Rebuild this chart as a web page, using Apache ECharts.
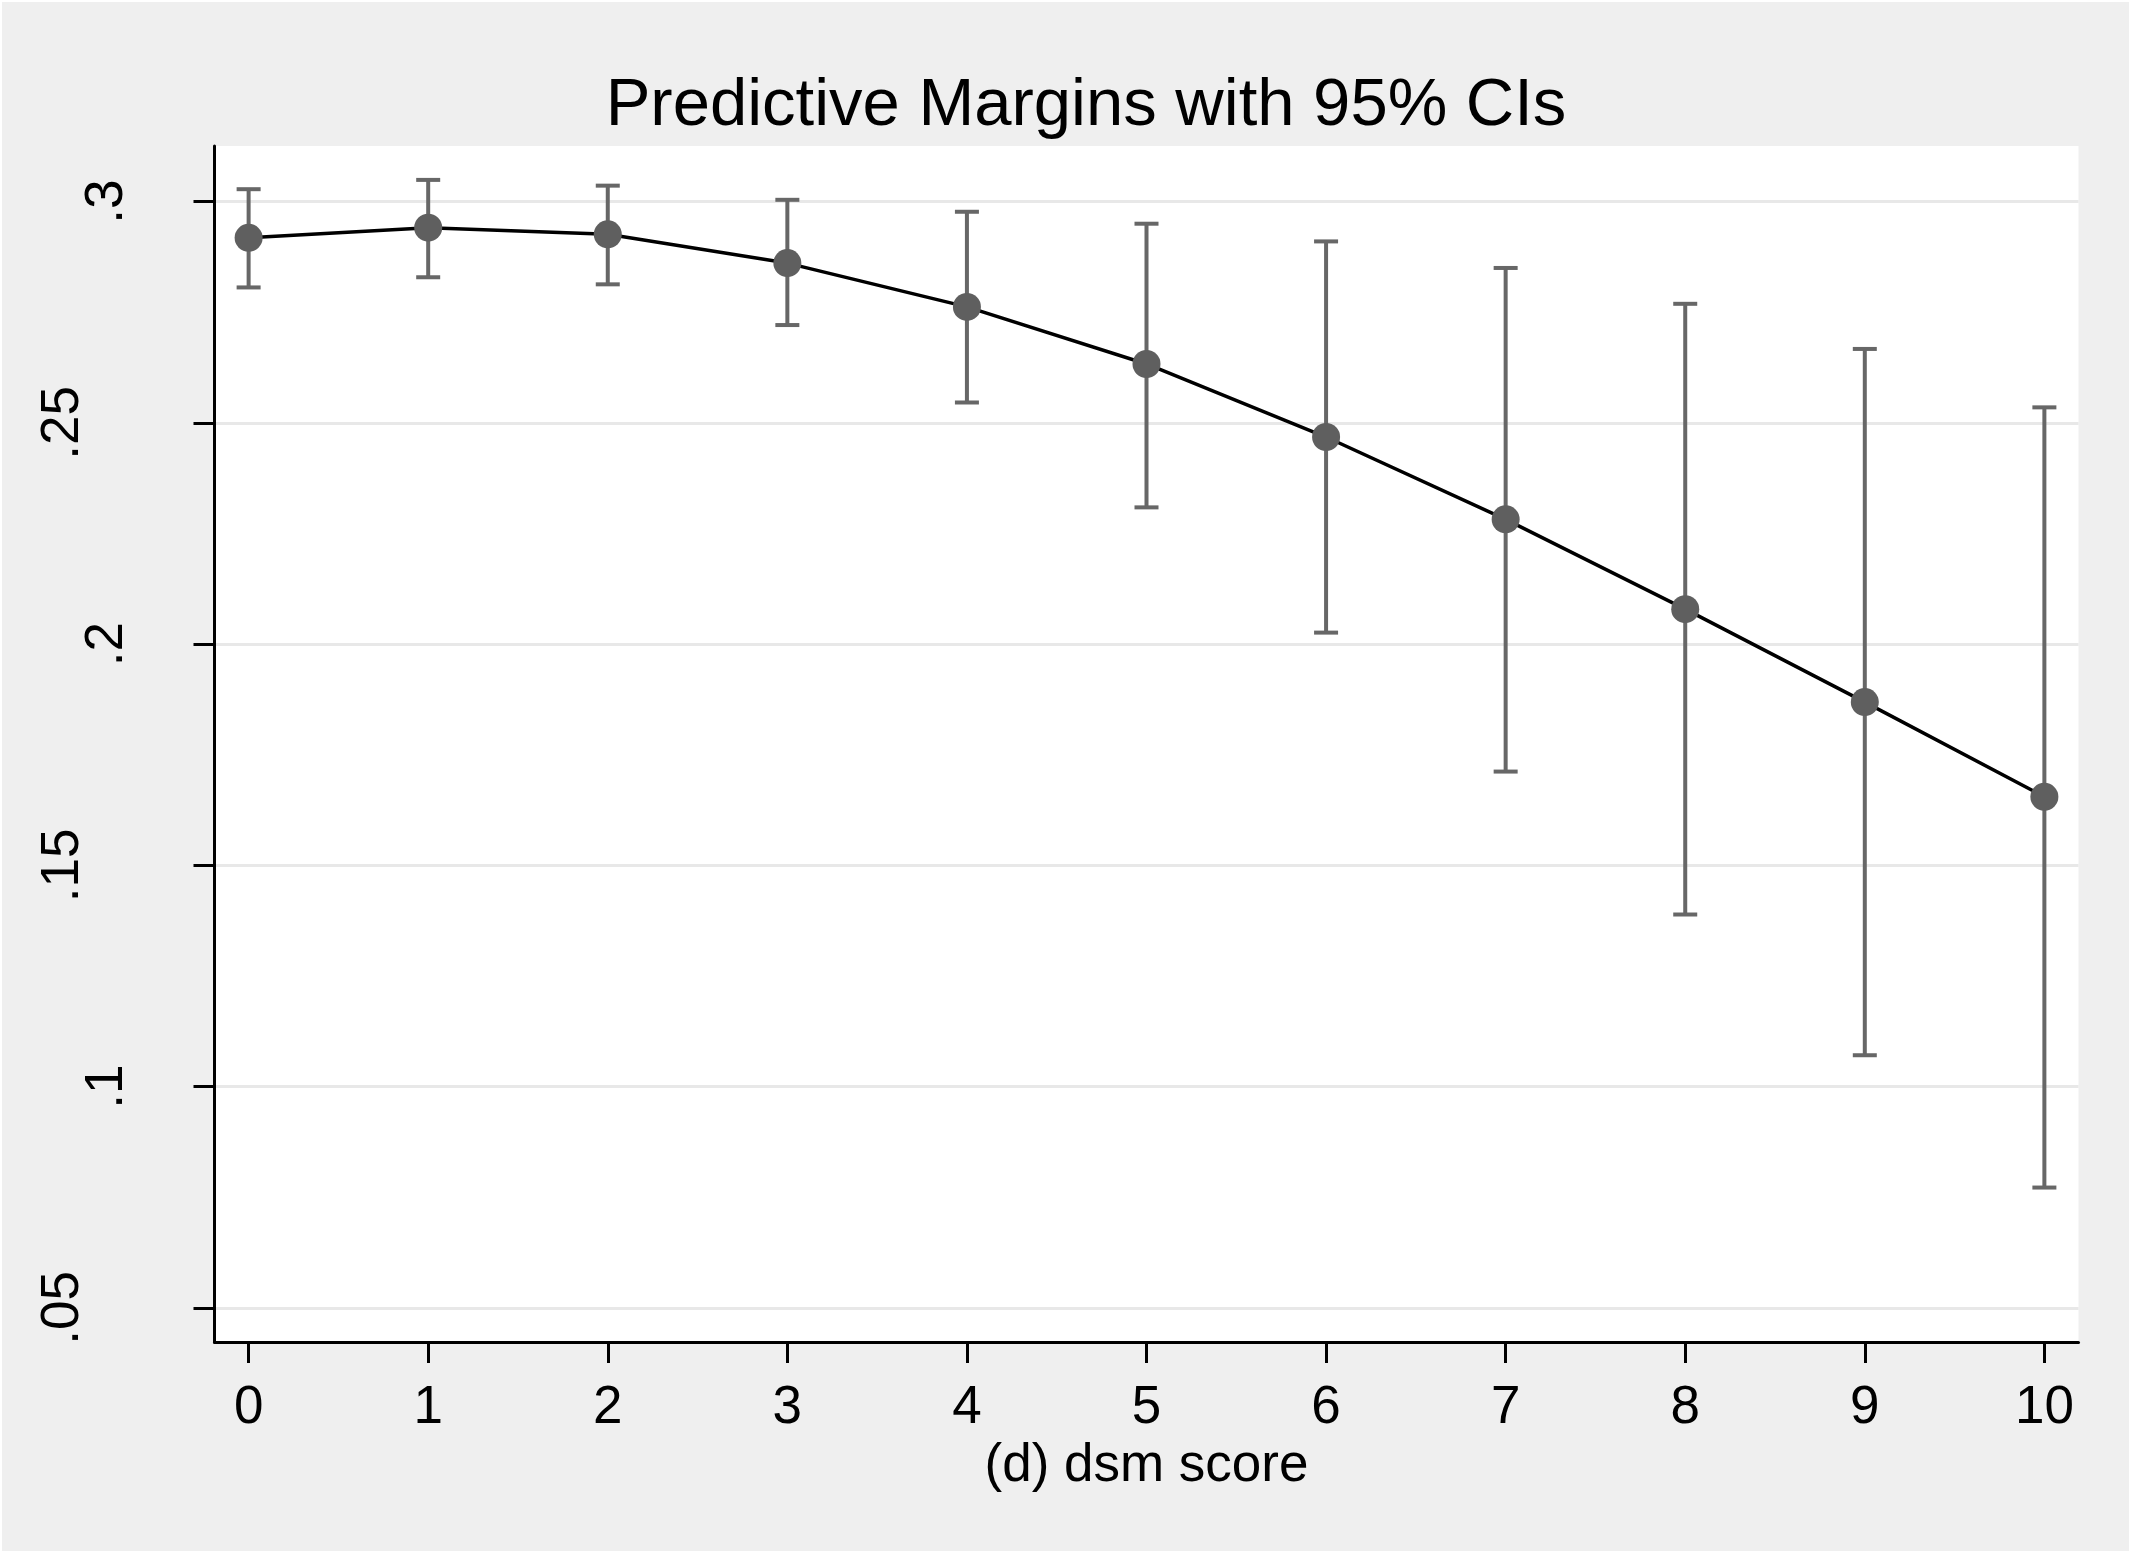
<!DOCTYPE html>
<html>
<head>
<meta charset="utf-8">
<script src="https://cdn.jsdelivr.net/npm/echarts@6/dist/echarts.min.js"></script>
<style>
  html, body { margin: 0; padding: 0; background: #ffffff; }
  #chart { position: absolute; left: 2px; top: 2px; width: 2127px; height: 1549px; }
</style>
</head>
<body>
<div id="chart"></div>
<script>
// dsm score categories
const dsmScores = [0, 1, 2, 3, 4, 5, 6, 7, 8, 9, 10];
// predictive margins and 95% confidence bounds
const margins = [0.2918, 0.2941, 0.2926, 0.2861, 0.2762, 0.2633, 0.2468, 0.2282, 0.2079, 0.1869, 0.1655];
const ciUpper = [0.3028, 0.3049, 0.3036, 0.3004, 0.2977, 0.2950, 0.2910, 0.2850, 0.2769, 0.2667, 0.2535];
const ciLower = [0.2806, 0.2829, 0.2813, 0.2721, 0.2546, 0.2309, 0.2026, 0.1712, 0.1389, 0.1071, 0.0772];
// axis ticks
const xTicks = [0, 1, 2, 3, 4, 5, 6, 7, 8, 9, 10];
const yTicks = [0.05, 0.1, 0.15, 0.2, 0.25, 0.3];
const yTickLabels = ['.05', '.1', '.15', '.2', '.25', '.3'];

const FONT = '"Liberation Sans", Arial, Helvetica, sans-serif';

// rotated labels sit at two depths: short ones (".1", ".2", ".3") closer to the axis
const yTicksShort = yTicks.filter((_, i) => i % 2 === 1);
const yTicksLong = yTicks.filter((_, i) => i % 2 === 0);

function yLabel(v) {
  let best = 0;
  for (let i = 1; i < yTicks.length; i++) {
    if (Math.abs(yTicks[i] - v) < Math.abs(yTicks[best] - v)) best = i;
  }
  return yTickLabels[best];
}

const Y_MIN = 0.0423;
const Y_MAX = 0.31256;

const chart = echarts.init(document.getElementById('chart'), null, { renderer: 'canvas' });

const ciData = dsmScores.map((x, i) => [x, ciLower[i], ciUpper[i]]);
const lineData = dsmScores.map((x, i) => [x, margins[i]]);

const labelStyle = { fontFamily: FONT, fontSize: 53, color: '#000000' };

chart.setOption({
  animation: false,
  backgroundColor: '#efefef',
  title: {
    text: 'Predictive Margins with 95% CIs',
    left: 1079,
    top: 66,
    textAlign: 'center',
    textStyle: { fontFamily: FONT, fontSize: 67, fontWeight: 'normal', color: '#000000' }
  },
  grid: { left: 212.5, right: 50.5, top: 144, bottom: 209, show: true, backgroundColor: '#ffffff', borderWidth: 0 },
  xAxis: {
    type: 'value',
    min: -0.19,
    max: 10.19,
    name: '(d) dsm score',
    nameLocation: 'middle',
    nameGap: 90,
    nameTextStyle: { fontFamily: FONT, fontSize: 53, color: '#000000' },
    axisLine: { show: true, onZero: false, lineStyle: { color: '#000000', width: 3 } },
    axisTick: { show: true, customValues: xTicks, length: 21, lineStyle: { color: '#000000', width: 3 } },
    axisLabel: Object.assign({ customValues: xTicks, margin: 40 }, labelStyle),
    splitLine: { show: false }
  },
  yAxis: [
    {
      type: 'value',
      min: Y_MIN,
      max: Y_MAX,
      position: 'left',
      axisLine: { show: true, onZero: false, lineStyle: { color: '#000000', width: 3 } },
      axisTick: { show: true, customValues: yTicks, length: 21, lineStyle: { color: '#000000', width: 3 } },
      axisLabel: Object.assign({ customValues: yTicksShort, rotate: 90, margin: 81, formatter: yLabel }, labelStyle),
      splitLine: { show: true, lineStyle: { color: '#e8e8e8', width: 3 } }
    },
    {
      type: 'value',
      min: Y_MIN,
      max: Y_MAX,
      position: 'left',
      axisLine: { show: false },
      axisTick: { show: false },
      axisLabel: Object.assign({ customValues: yTicksLong, rotate: 90, margin: 125, formatter: yLabel }, labelStyle),
      splitLine: { show: false }
    }
  ],
  series: [
    {
      // 95% confidence intervals drawn as capped vertical bars
      type: 'custom',
      z: 2,
      yAxisIndex: 0,
      data: ciData,
      encode: { x: 0, y: [1, 2] },
      renderItem: function (params, api) {
        const x = api.value(0);
        const lo = api.coord([x, api.value(1)]);
        const hi = api.coord([x, api.value(2)]);
        const half = 12;
        const style = { stroke: '#676767', lineWidth: 4, fill: null };
        return {
          type: 'group',
          children: [
            { type: 'line', shape: { x1: lo[0], y1: lo[1], x2: hi[0], y2: hi[1] }, style: style },
            { type: 'line', shape: { x1: hi[0] - half, y1: hi[1], x2: hi[0] + half, y2: hi[1] }, style: style },
            { type: 'line', shape: { x1: lo[0] - half, y1: lo[1], x2: lo[0] + half, y2: lo[1] }, style: style }
          ]
        };
      }
    },
    {
      // predictive margins
      type: 'line',
      z: 3,
      yAxisIndex: 0,
      data: lineData,
      symbol: 'circle',
      symbolSize: 28,
      showSymbol: true,
      lineStyle: { color: '#000000', width: 3.5 },
      itemStyle: { color: '#5f5f5f', borderWidth: 0 }
    }
  ]
});
</script>
</body>
</html>
